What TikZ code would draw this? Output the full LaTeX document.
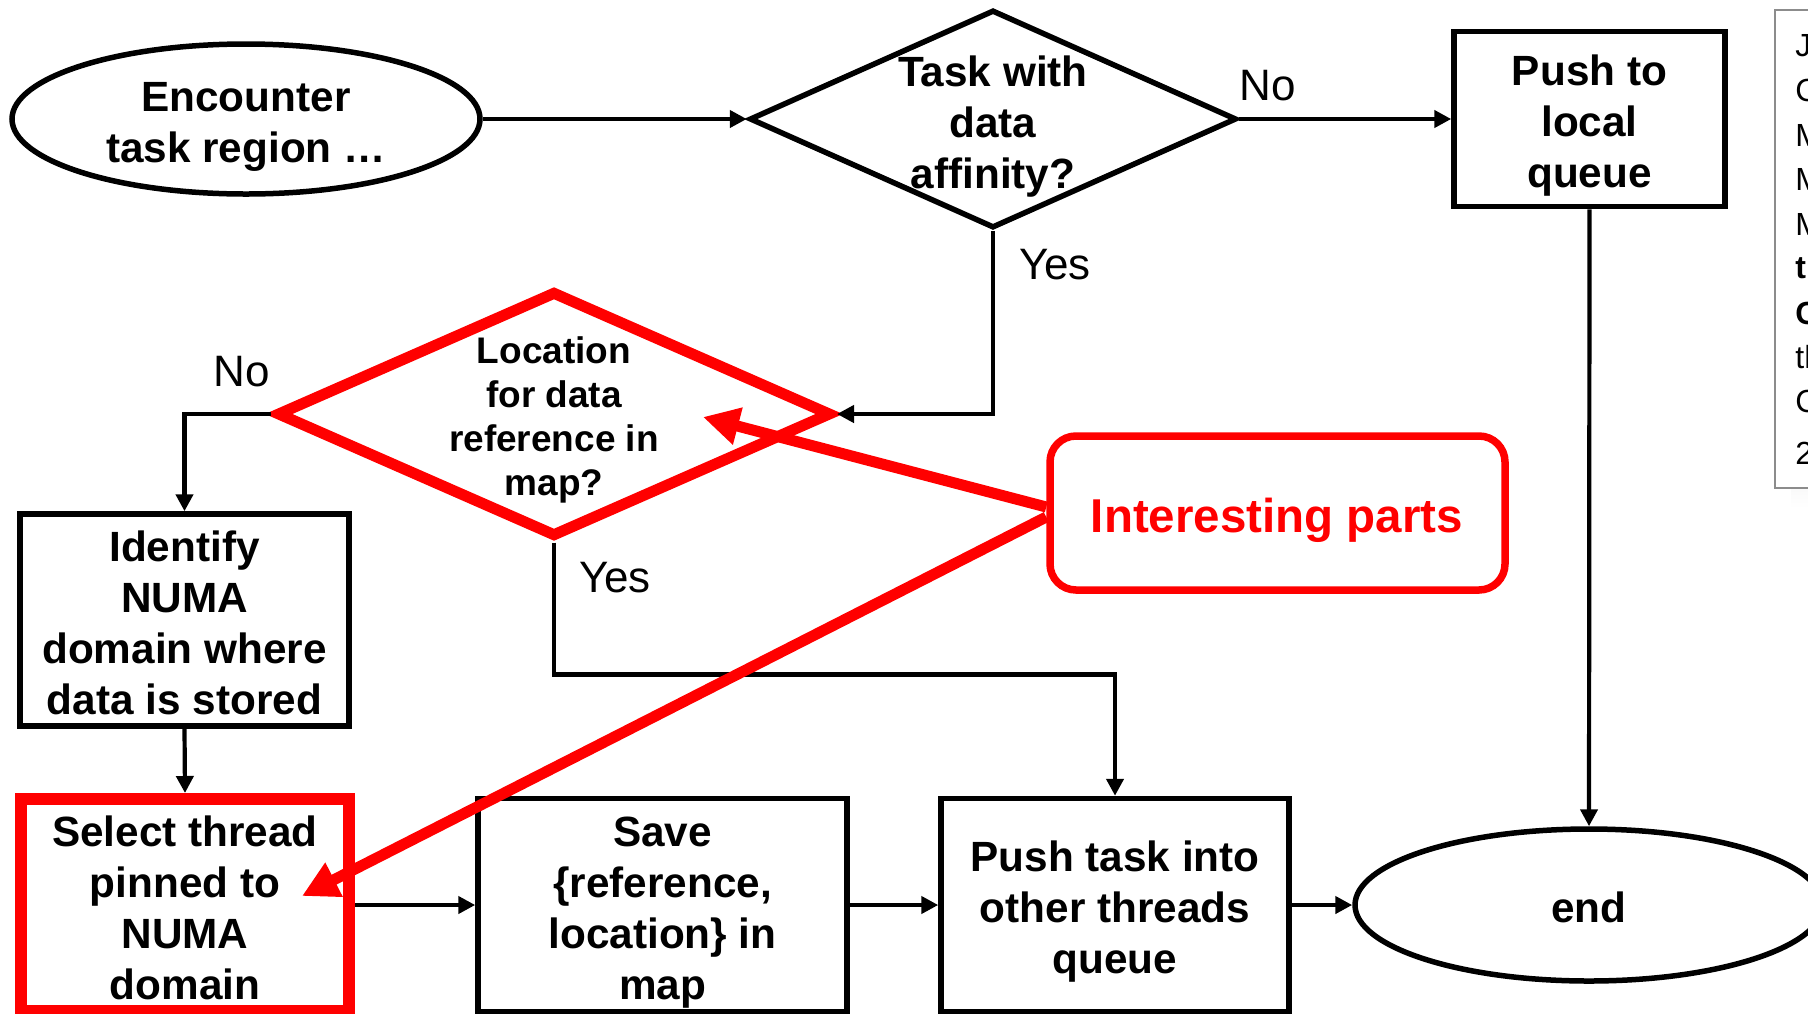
\documentclass[tikz,border=0pt]{standalone}
\usepackage{fontspec}
\setmainfont{Liberation Sans}
\usetikzlibrary{shapes.geometric,arrows.meta}
\definecolor{hotred}{RGB}{255,0,0}
\definecolor{frame}{RGB}{140,140,140}
\definecolor{shade}{RGB}{200,200,192}

\begin{document}
\begin{tikzpicture}[x=0.5pt,y=-0.5pt,
  boldtxt/.style={font=\bfseries\fontsize{21.15pt}{25.5pt}\selectfont, align=center, inner sep=0pt, text depth=0pt},
  smalltxt/.style={font=\bfseries\fontsize{18.5pt}{22pt}\selectfont, align=center, inner sep=0pt, text depth=0pt},
  % height of the text block by number of lines, so that all blocks sit alike
  oneline/.style={text height=17.7pt},
  twolines/.style={text height=43.2pt},
  threelines/.style={text height=68.7pt},
  fourlines/.style={text height=94.2pt},
  branch/.style={font=\fontsize{22pt}{26pt}\selectfont, inner sep=0pt},
  sidetxt/.style={font=\fontsize{16pt}{19pt}\selectfont, inner sep=0pt, anchor=west},
  flowbox/.style={rectangle, draw, line width=2.75pt, boldtxt},
  hotbox/.style={rectangle, draw=hotred, line width=6pt, boldtxt},
  terminal/.style={ellipse, draw, line width=2.75pt, boldtxt, minimum width=234pt, minimum height=75pt},
  decision/.style={diamond, draw, line width=2.75pt, inner sep=0pt},
  hotdecision/.style={diamond, draw=hotred, line width=5.5pt, inner sep=0pt},
  conn/.style={line width=2.1pt, -{Triangle[length=8.5pt,width=8.5pt]}},
  pointer/.style={draw=hotred, color=hotred, line width=5.5pt, -{Triangle[length=18pt,width=18pt]}},
  callout/.style={rectangle, rounded corners=13pt, draw=hotred, line width=3.75pt,
    minimum width=227.5pt, minimum height=77pt}
]
\useasboundingbox (0,0) rectangle (1808,1013);
\clip (0,0) rectangle (1808,1013);
\fill[white] (0,0) rectangle (1808,1013);

% start and end terminals
\node[terminal, twolines] (enc) at (246,119) {Encounter\\task region …};
\node[terminal, oneline, minimum height=76pt] (end) at (1589,905) {end};

% decisions
\node[decision, minimum width=243.5pt, minimum height=109pt] (q1) at (993,119) {};
\node[boldtxt] (q1txt) at (993,122) {Task with\\data\\affinity?};
\node[hotdecision, minimum width=277.5pt, minimum height=123pt] (q2) at (554,414) {};
\node[smalltxt] (q2txt) at (554,416.5) {Location\\for data\\reference in\\map?};

% process boxes
\node[flowbox, threelines, minimum width=135.5pt, minimum height=87.5pt] (pushlocal) at (1589.5,119) {Push to\\local\\queue};
\node[flowbox, fourlines, minimum width=164.5pt, minimum height=106pt] (identify) at (184.5,620) {Identify\\NUMA\\domain where\\data is stored};
\node[hotbox, fourlines, minimum width=164pt, minimum height=106pt] (select) at (185,905) {Select thread\\pinned to\\NUMA\\domain};
\node[flowbox, fourlines, minimum width=184.5pt, minimum height=106.5pt] (save) at (662.5,905) {Save\\\{reference,\\location\} in\\map};
\node[flowbox, threelines, minimum width=174pt, minimum height=106.5pt] (pushother) at (1115,905) {Push task into\\other threads\\queue};

% branch labels
\node[branch] (no1) at (1268,86) {No};
\node[branch] (yes1) at (1055,265) {Yes};
\node[branch] (no2) at (242,372) {No};
\node[branch] (yes2) at (615,578) {Yes};

% connectors
\draw[conn] (enc.east) -- (q1.west);
\draw[conn] (q1.east) -- (pushlocal.west);
\draw[conn] (q1.south) |- (q2.east);
\draw[conn] (q2.west) -| (identify.north);
\draw[conn] (q2.south) -- ++(0,132) -| (pushother.north);
\draw[conn] (identify.south) -- (select.north);
\draw[conn] (select.east) -- (save.west);
\draw[conn] (save.east) -- (pushother.west);
\draw[conn] (pushother.east) -- (end.west);
\draw[conn] (pushlocal.south) -- (end.north);

% side panel at the right edge
\fill[shade] (1791,26) rectangle (1830,508);
\draw[frame, fill=white, line width=1pt] (1775,10) rectangle (1840,488);
\node[sidetxt] (s1) at (1795,46) {J};
\node[sidetxt] (s2) at (1795,90) {C};
\node[sidetxt] (s3) at (1795,135) {M};
\node[sidetxt] (s4) at (1795,179) {M};
\node[sidetxt] (s5) at (1795,224) {M};
\node[sidetxt, font=\bfseries\fontsize{16pt}{19pt}\selectfont] (s6) at (1795,268) {t};
\node[sidetxt, font=\bfseries\fontsize{16pt}{19pt}\selectfont] (s7) at (1795,313) {C};
\node[sidetxt] (s8) at (1795,357) {th};
\node[sidetxt] (s9) at (1795,401) {C};
\node[sidetxt] (s10) at (1795,453) {2};

% highlight callout and its pointers
\node[callout] (ip) at (1277.5,513) {};
\node[font=\bfseries\fontsize{23.75pt}{28pt}\selectfont, text=hotred, inner sep=0pt, anchor=base] (iptxt) at (1277,532) {Interesting parts};
\coordinate (tipA) at (703,417);
\coordinate (tipB) at (302,896);
\draw[pointer] ([yshift=3pt]ip.west) -- (tipA);
\draw[pointer] ([yshift=-2pt]ip.west) -- (tipB);
\end{tikzpicture}
\end{document}
